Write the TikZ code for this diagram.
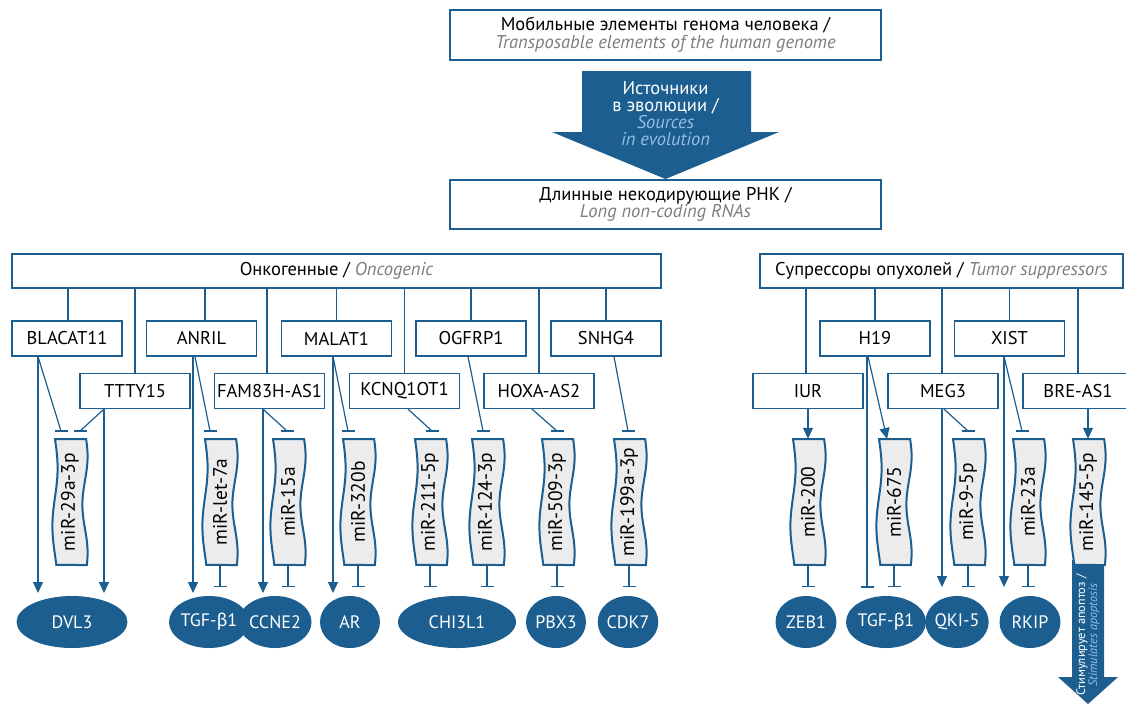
\documentclass[tikz,border=0pt]{standalone}
\usepackage{fontspec}
\usepackage{graphicx}
\setmainfont{PT Sans}
\newfontfamily\grk{Fira Sans}
\usetikzlibrary{arrows.meta,shapes.geometric}
\definecolor{cblue}{RGB}{27,94,143}
\definecolor{cgray}{RGB}{125,125,125}
\definecolor{clight}{RGB}{150,190,225}
\definecolor{cfill}{RGB}{236,236,236}
\newcommand\en[1]{{\itshape\color{cgray}#1}}
\newcommand\enl[1]{{\itshape\color{clight}#1}}
\newcommand\bet{{\grk β}}
\tikzset{
  conn/.style={draw=cblue, line width=1.2pt},
  arr/.style={conn, -{Triangle[length=11pt,width=10pt]}},
  hbox/.style={draw=cblue, line width=1.2pt, fill=white, align=center, inner sep=0pt,
    font=\fontsize{18.5}{17.5}\selectfont},
  lbox/.style={draw=cblue, line width=1.2pt, fill=white, minimum width=110pt, minimum height=35pt,
    inner sep=0pt, font=\fontsize{18.5}{18}\selectfont},
  mirshape/.style={draw=cblue, line width=2pt, fill=cfill},
  mirlabel/.style={minimum width=30pt, minimum height=126pt, inner sep=0pt,
    font=\fontsize{19.5}{18}\selectfont},
  target/.style={ellipse, fill=cblue, text=white, minimum height=52pt, inner sep=0pt,
    font=\fontsize{18}{18}\selectfont},
}
% #1 name, #2 centre x, #3 label
\newcommand\mirna[3]{%
  \filldraw[mirshape] plot[domain=0:1,samples=40,smooth,variable=\t]
      ({#2-15+2.6*sin(390*\t)},{439+126*\t})
    -- plot[domain=0:1,samples=40,smooth,variable=\t]
      ({#2+15+2.6*sin(470*(1-\t)+25)},{565-126*\t}) -- cycle;
  \node[mirlabel] (#1) at (#2,502) {\rotatebox{90}{#3}};}
% inhibition: from point to named coordinate, horizontal bar at the end
\newcommand\inh[2]{%
  \draw[conn] (#1) -- (#2);
  \draw[conn] ([xshift=-6.5pt]#2) -- ([xshift=6.5pt]#2);}
\begin{document}
\begin{tikzpicture}[x=1pt,y=-1pt]
\useasboundingbox (0,0) rectangle (1126,704);

% ---- top part
\node[hbox, minimum width=431pt, minimum height=50pt] (te) at (665.5,35)
  {Мобильные элементы генома человека /\\\en{Transposable elements of the human genome}};
\fill[cblue] (582,71) -- (751,71) -- (751,132) -- (779,132) -- (665.5,179) -- (552,132) -- (582,132) -- cycle;
\node[align=center, text=white, font=\fontsize{18.5}{17}\selectfont] (src) at (665.5,114)
  {Источники\\в эволюции /\\\enl{Sources}\\\enl{in evolution}};
\node[hbox, minimum width=431pt, minimum height=49pt] (lnc) at (665.5,204.5)
  {Длинные некодирующие РНК /\\\en{Long non-coding RNAs}};

% ---- group headers
\node[hbox, minimum width=649pt, minimum height=34pt] (onc) at (336.5,271)
  {Онкогенные / \en{Oncogenic}};
\node[hbox, minimum width=363pt, minimum height=34pt] (sup) at (941.5,271)
  {Супрессоры опухолей / \en{Tumor suppressors}};

% ---- lncRNA boxes
\node[lbox] (blacat) at (67,338.5) {BLACAT11};
\node[lbox] (anril)  at (201.5,338.5) {ANRIL};
\node[lbox] (malat)  at (336.5,338.5) {MALAT1};
\node[lbox] (ogfrp)  at (471,338.5) {OGFRP1};
\node[lbox] (snhg)   at (606,338.5) {SNHG4};
\node[lbox] (ttty)   at (135,391) {TTTY15};
\node[lbox] (fam)    at (269.5,391) {FAM83H-AS1};
\node[lbox] (kcnq)   at (404.5,391) {KCNQ1OT1};
\node[lbox] (hoxa)   at (539,391) {HOXA-AS2};
\node[lbox] (h19)    at (875,338.5) {H19};
\node[lbox] (xist)   at (1009.5,338.5) {XIST};
\node[lbox] (iur)    at (808,391) {IUR};
\node[lbox] (meg)    at (943,391) {MEG3};
\node[lbox] (bre)    at (1078,391) {BRE-AS1};

% ---- drops from headers
\foreach \b/\dx in {blacat/1,ttty/0,anril/3.5,fam/-2.5,malat/0,kcnq/0,ogfrp/0,hoxa/0,snhg/0}
  \draw[conn] ([xshift=\dx pt]onc.south -| \b.north) -- ([xshift=\dx pt]\b.north);
\foreach \b/\dx in {iur/-2,h19/0,meg/-1,xist/0,bre/0}
  \draw[conn] ([xshift=\dx pt]sup.south -| \b.north) -- ([xshift=\dx pt]\b.north);

% ---- miRNAs
\mirna{m29a}{70}{miR-29a-3p}
\mirna{mlet}{220}{miR-let-7a}
\mirna{m15a}{288}{miR-15a}
\mirna{m320b}{358}{miR-320b}
\mirna{m211}{430}{miR-211-5p}
\mirna{m124}{487}{miR-124-3p}
\mirna{m509}{557}{miR-509-3p}
\mirna{m199a}{629}{miR-199a-3p}
\mirna{m200}{808}{miR-200}
\mirna{m675}{894}{miR-675}
\mirna{m95p}{968}{miR-9-5p}
\mirna{m23a}{1028}{miR-23a}

% bottom-right big arrow (below miR-145-5p)
\fill[cblue] (1072,560) -- (1104,560) -- (1104,677) -- (1118,677) -- (1088,704) -- (1058,677) -- (1072,677) -- cycle;
\mirna{m145}{1088}{miR-145-5p}
\node[rotate=90, align=center, text=white, inner sep=0pt,
  font=\fontsize{12.3}{12}\selectfont] (apop) at (1088,635)
  {Стимулирует апоптоз /\\\enl{Stimulates apoptosis}};

% ---- targets
\node[target, minimum width=111pt] (dvl)  at (72,622) {DVL3};
\node[target, minimum width=60pt]  (tgfa) at (209,622) {TGF-\bet 1};
\node[target, minimum width=60pt]  (ccne) at (275,622) {CCNE2};
\node[target, minimum width=60pt]  (ar)   at (350,622) {AR};
\node[target, minimum width=118pt] (chi)  at (457,622) {CHI3L1};
\node[target, minimum width=60pt]  (pbx)  at (556,622) {PBX3};
\node[target, minimum width=60pt]  (cdk)  at (628,622) {CDK7};
\node[target, minimum width=61pt]  (zeb)  at (806,622) {ZEB1};
\node[target, minimum width=60pt]  (tgfb) at (886,622) {TGF-\bet 1};
\node[target, minimum width=61pt]  (qki)  at (957,622) {QKI-5};
\node[target, minimum width=61pt]  (rkip) at (1030,622) {RKIP};

% ---- inhibition from lncRNAs to miRNAs (bars above miRNAs)
\coordinate (i1) at (61,431);
\coordinate (i2) at (80,431);
\coordinate (i3) at (210,431);
\coordinate (i4) at (287,431);
\coordinate (i5) at (348,431);
\coordinate (i6) at (432,431);
\coordinate (i7) at (483,431);
\coordinate (i8) at (557,431);
\coordinate (i9) at (628,431);
\coordinate (i10) at (968,431);
\coordinate (i11) at (1022,431);
\inh{[xshift=-29pt]blacat.south}{i1}
\inh{[xshift=-31pt]ttty.south}{i2}
\inh{[xshift=-6.5pt]anril.south}{i3}
\inh{[xshift=-6.5pt]fam.south}{i4}
\inh{[xshift=-3.5pt]malat.south}{i5}
\inh{[xshift=3.5pt]kcnq.south}{i6}
\inh{[xshift=-3pt]ogfrp.south}{i7}
\inh{[xshift=-7pt]hoxa.south}{i8}
\inh{[xshift=8pt]snhg.south}{i9}
\inh{[xshift=1pt]meg.south}{i10}
\inh{[xshift=-5.5pt]xist.south}{i11}

% ---- direct arrows from lncRNAs to targets
\coordinate (t1) at (38,593);
\coordinate (t2) at (104,593);
\coordinate (t3) at (193,593);
\coordinate (t4) at (263,593);
\coordinate (t5) at (333,593);
\coordinate (t6) at (942,587);
\coordinate (t7) at (1004,587);
\draw[arr] ([xshift=-29pt]blacat.south) -- (t1);
\draw[arr] ([xshift=-31pt]ttty.south) -- (t2);
\draw[arr] ([xshift=-8.5pt]anril.south) -- (t3);
\draw[arr] ([xshift=-6.5pt]fam.south) -- (t4);
\draw[arr] ([xshift=-3.5pt]malat.south) -- (t5);
\draw[arr] ([xshift=-1pt]meg.south) -- (t6);
\draw[arr] ([xshift=-5.5pt]xist.south) -- (t7);

% ---- suppressor arrows to miRNAs
\coordinate (t8) at (887,439);
\draw[arr] ([xshift=-7pt]h19.south) -- (t8);
\draw[arr] (iur.south -| m200.north) -- (m200.north);
\draw[arr] (bre.south -| m145.north) -- (m145.north);
\coordinate (i12) at (867,587);
\inh{[xshift=-8pt]h19.south}{i12}

% ---- inhibition from miRNAs to targets
\foreach \m/\tg in {mlet/tgfa, m15a/ccne, m320b/ar, m211/chi, m124/chi, m509/pbx, m199a/cdk,
                    m200/zeb, m675/tgfb, m95p/qki, m23a/rkip}{
  \coordinate (b\m) at ([yshift=9pt]\m.south |- \tg.north);
  \inh{\m.south}{b\m}
}
\end{tikzpicture}
\end{document}
